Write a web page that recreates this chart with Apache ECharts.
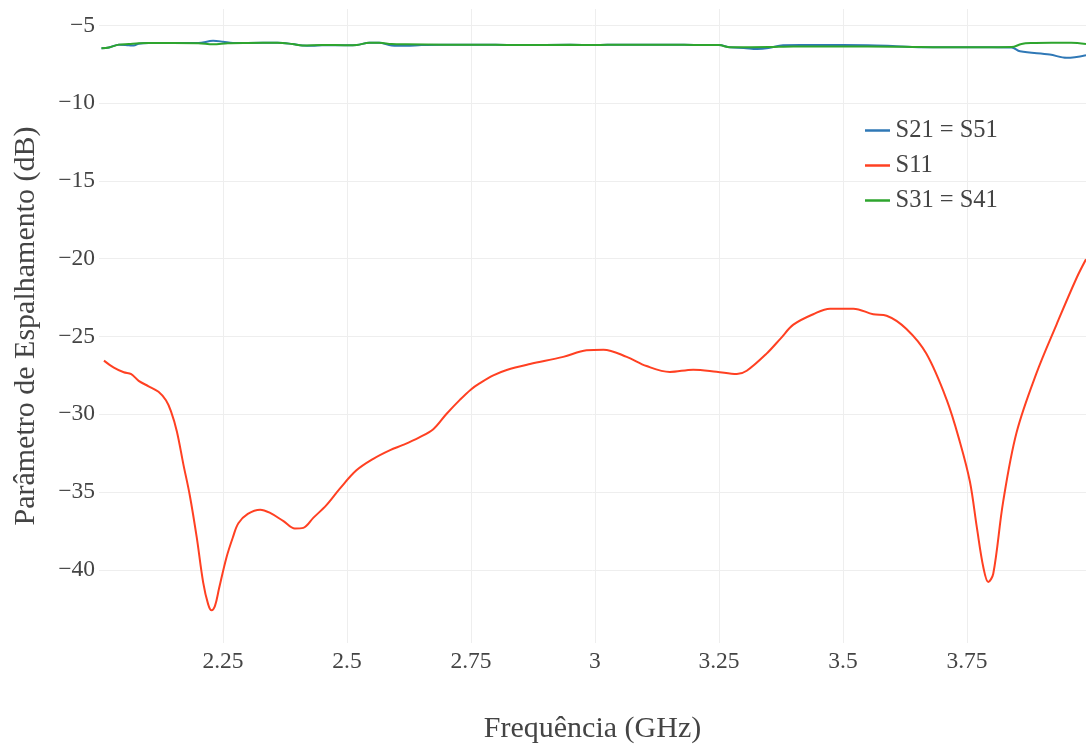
<!DOCTYPE html>
<html>
<head>
<meta charset="utf-8">
<script src="https://cdn.jsdelivr.net/npm/echarts@6/dist/echarts.min.js"></script>
<style>
html,body{margin:0;padding:0;background:#fff;}
#chart{width:1086px;height:749px;}
</style>
</head>
<body>
<div id="chart"></div>
<script>
// Tick values
const xTicks = [2.25, 2.5, 2.75, 3, 3.25, 3.5, 3.75];
const yTicks = [-40, -35, -30, -25, -20, -15, -10, -5];

// S21 = S51 (blue)
const s21 = [
  [2.005,-6.47],[2.02,-6.42],[2.04,-6.24],[2.06,-6.28],[2.07,-6.3],[2.08,-6.18],[2.10,-6.14],
  [2.15,-6.14],[2.20,-6.14],[2.23,-5.99],[2.25,-6.05],[2.27,-6.14],[2.30,-6.13],[2.36,-6.12],
  [2.39,-6.2],[2.41,-6.29],[2.43,-6.32],[2.45,-6.28],[2.50,-6.28],[2.52,-6.26],[2.545,-6.12],
  [2.565,-6.12],[2.59,-6.3],[2.62,-6.32],[2.65,-6.26],[2.70,-6.24],[2.80,-6.25],[2.85,-6.27],
  [2.95,-6.25],[3.00,-6.27],[3.05,-6.24],[3.15,-6.24],[3.20,-6.26],[3.25,-6.27],[3.272,-6.41],
  [3.30,-6.45],[3.327,-6.52],[3.35,-6.46],[3.379,-6.28],[3.45,-6.27],[3.55,-6.28],[3.60,-6.33],
  [3.64,-6.39],[3.70,-6.41],[3.80,-6.41],[3.84,-6.42],[3.857,-6.67],[3.917,-6.88],[3.951,-7.09],
  [3.99,-6.92]
];

// S11 (red)
const s11 = [
  [2.01,-26.55],[2.03,-27.0],[2.05,-27.3],[2.065,-27.42],[2.08,-27.85],[2.10,-28.2],[2.12,-28.55],
  [2.135,-29.1],[2.145,-29.8],[2.157,-31.1],[2.17,-33.2],[2.183,-35.2],[2.197,-37.9],[2.21,-40.8],
  [2.22,-42.2],[2.227,-42.6],[2.234,-42.3],[2.242,-41.2],[2.257,-39.2],[2.27,-37.9],[2.281,-37.0],
  [2.30,-36.4],[2.325,-36.13],[2.345,-36.34],[2.372,-36.87],[2.395,-37.34],[2.412,-37.3],
  [2.432,-36.66],[2.459,-35.82],[2.486,-34.76],[2.519,-33.6],[2.553,-32.86],[2.587,-32.3],
  [2.613,-31.97],[2.645,-31.5],[2.674,-30.96],[2.70,-30.0],[2.728,-29.06],[2.75,-28.4],
  [2.768,-28.0],[2.795,-27.5],[2.822,-27.15],[2.869,-26.77],[2.936,-26.31],[2.983,-25.89],
  [3.017,-25.85],[3.064,-26.31],[3.104,-26.9],[3.151,-27.28],[3.198,-27.13],[3.245,-27.26],
  [3.286,-27.41],[3.306,-27.2],[3.346,-26.1],[3.375,-25.1],[3.40,-24.24],[3.44,-23.57],
  [3.474,-23.21],[3.521,-23.21],[3.561,-23.57],[3.588,-23.67],[3.628,-24.52],[3.668,-26.1],
  [3.709,-29.06],[3.736,-31.81],[3.756,-34.34],[3.770,-37.29],[3.783,-39.83],[3.793,-40.78],
  [3.803,-40.25],[3.823,-35.61],[3.850,-31.17],[3.890,-27.37],[3.931,-24.2],[3.971,-21.24],
  [3.99,-20.04]
];

// S31 = S41 (green)
const s31 = [
  [2.005,-6.47],[2.02,-6.42],[2.04,-6.24],[2.06,-6.2],[2.08,-6.15],[2.10,-6.14],[2.15,-6.14],
  [2.20,-6.15],[2.23,-6.22],[2.26,-6.15],[2.30,-6.13],[2.36,-6.12],[2.39,-6.2],[2.41,-6.29],
  [2.45,-6.26],[2.50,-6.28],[2.52,-6.26],[2.545,-6.12],[2.565,-6.12],[2.59,-6.2],[2.62,-6.22],
  [2.70,-6.24],[2.80,-6.25],[2.85,-6.27],[2.95,-6.25],[3.00,-6.27],[3.05,-6.24],[3.15,-6.24],
  [3.20,-6.26],[3.25,-6.27],[3.272,-6.41],[3.30,-6.41],[3.35,-6.4],[3.40,-6.36],[3.50,-6.36],
  [3.60,-6.37],[3.64,-6.39],[3.70,-6.41],[3.80,-6.41],[3.84,-6.4],[3.86,-6.2],[3.88,-6.14],
  [3.92,-6.12],[3.96,-6.12],[3.99,-6.2]
];

const FONT = '"Liberation Serif", serif';
const TXT = '#444';
const chart = echarts.init(document.getElementById('chart'));
const mk = (name, data, color) => ({
  name, type: 'line', data, symbol: 'none', smooth: 0.35,
  lineStyle: { color, width: 2 }, itemStyle: { color }
});
chart.setOption({
  animation: false,
  backgroundColor: '#fff',
  grid: { left: 99, right: 0, top: 9, bottom: 98, containLabel: false },
  legend: {
    orient: 'vertical', left: 860, top: 113, itemGap: 10,
    itemWidth: 26, itemHeight: 2.5,
    icon: 'path://M0,0 L30,0 L30,3 L0,3 Z',
    textStyle: { fontFamily: FONT, fontSize: 24.5, color: TXT },
    data: ['S21 = S51', 'S11', 'S31 = S41']
  },
  xAxis: {
    type: 'value', min: 2.0, max: 3.99,
    name: 'Frequência (GHz)', nameLocation: 'middle', nameGap: 71,
    nameTextStyle: { fontFamily: FONT, fontSize: 30, color: TXT },
    axisLine: { show: false }, axisTick: { show: false, customValues: xTicks },
    axisLabel: { customValues: xTicks, fontFamily: FONT, fontSize: 23.5, color: TXT, margin: 7,
      formatter: v => String(v) },
    splitLine: { show: true, lineStyle: { color: '#eeeeee', width: 1 } }
  },
  yAxis: {
    type: 'value', min: -44.7, max: -3.95,
    name: 'Parâmetro de Espalhamento (dB)', nameLocation: 'middle', nameGap: 58,
    nameTextStyle: { fontFamily: FONT, fontSize: 30, color: TXT },
    axisLine: { show: false }, axisTick: { show: false, customValues: yTicks },
    axisLabel: { customValues: yTicks, fontFamily: FONT, fontSize: 23.5, color: TXT, margin: 4,
      formatter: v => (v < 0 ? '\u2212' + Math.abs(v) : String(v)) },
    splitLine: { show: true, lineStyle: { color: '#eeeeee', width: 1 } }
  },
  series: [
    mk('S21 = S51', s21, '#2f78b6'),
    mk('S11', s11, '#ff4022'),
    mk('S31 = S41', s31, '#2ea52e')
  ]
});
</script>
</body>
</html>
